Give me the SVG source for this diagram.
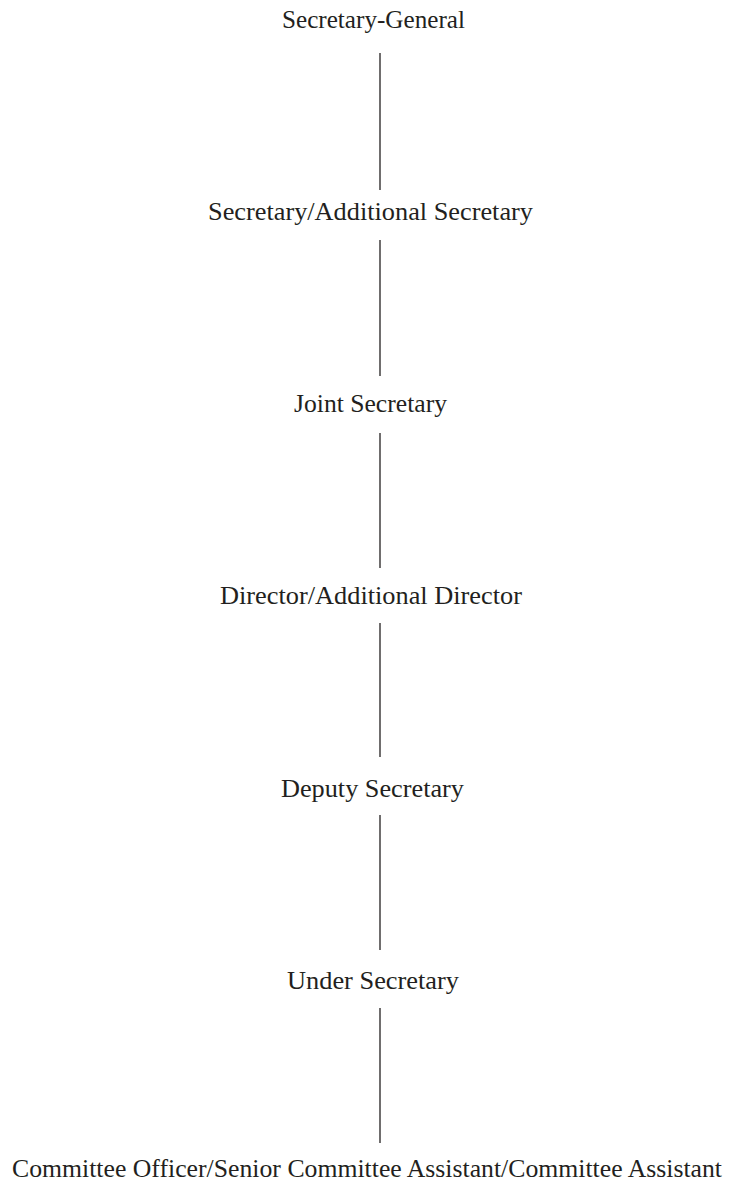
<svg xmlns="http://www.w3.org/2000/svg" width="735" height="1187" viewBox="0 0 735 1187">
<style>
.lbl{font-family:"Liberation Serif","Times New Roman",serif;font-size:26px;fill:#231f20;}
.conn line{stroke:#231f20;stroke-width:1.3;}
</style>
<rect width="735" height="1187" fill="#fff"/>
<g id="connectors" class="conn">
<line x1="380" y1="53" x2="380" y2="190"/>
<line x1="380" y1="240" x2="380" y2="376"/>
<line x1="380" y1="433" x2="380" y2="568"/>
<line x1="380" y1="623" x2="380" y2="757"/>
<line x1="380" y1="815" x2="380" y2="950"/>
<line x1="380" y1="1008" x2="380" y2="1143"/>
</g>
<g id="n1"><text class="lbl" x="282" y="28" textLength="183" lengthAdjust="spacingAndGlyphs">Secretary-General</text></g>
<g id="n2"><text class="lbl" x="208" y="220" textLength="325" lengthAdjust="spacingAndGlyphs">Secretary/Additional Secretary</text></g>
<g id="n3"><text class="lbl" x="294" y="412" textLength="153" lengthAdjust="spacingAndGlyphs">Joint Secretary</text></g>
<g id="n4"><text class="lbl" x="220" y="604" textLength="302" lengthAdjust="spacingAndGlyphs">Director/Additional Director</text></g>
<g id="n5"><text class="lbl" x="281" y="797" textLength="183" lengthAdjust="spacingAndGlyphs">Deputy Secretary</text></g>
<g id="n6"><text class="lbl" x="287" y="989" textLength="172" lengthAdjust="spacingAndGlyphs">Under Secretary</text></g>
<g id="n7"><text class="lbl" x="12" y="1177" textLength="710" lengthAdjust="spacingAndGlyphs">Committee Officer/Senior Committee Assistant/Committee Assistant</text></g>
</svg>
